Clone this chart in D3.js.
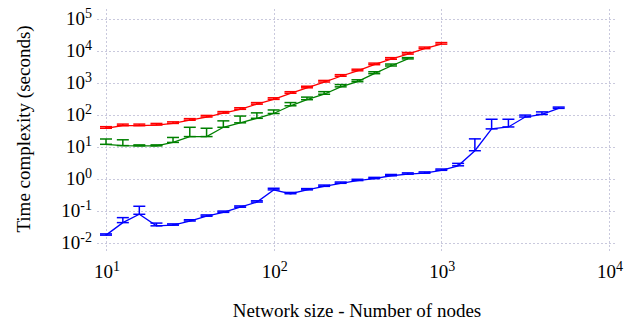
<!DOCTYPE html>
<html>
<head>
<meta charset="utf-8">
<script src="https://cdn.jsdelivr.net/npm/d3@7"></script>
<style>
html, body { margin: 0; padding: 0; background: #fff; }
svg { display: block; font-family: "Liberation Serif", "Times New Roman", serif; }
</style>
</head>
<body>
<svg id="chart" width="632" height="322"></svg>
<script>
// ---- Data ----
const nodes = [10, 12.6, 15.8, 20, 25.1, 31.6, 39.8, 50.1, 63.1, 79.4, 100, 126, 158, 200, 251, 316, 398, 501, 631, 794, 1000, 1259, 1585, 1995, 2512, 3162, 3981, 5012];

const redMean = [38.9, 46.8, 46.8, 49.0, 55.0, 69.2, 87.1, 114.8, 151.4, 218.8, 309, 478.6, 707.9, 1071.5, 1621.8, 2398.8, 3715.4, 5495.4, 7943.3, 11749, 16218];
const redErr  = [4.7, 5.6, 5.6, 5.9, 6.6, 8.3, 10.5, 13.8, 18.2, 26.3, 37, 57, 85, 129, 195, 288, 446, 659, 953, 1410, 1946];

const greenMean = [12.3, 11.2, 11.0, 11.0, 14.1, 21.4, 21.4, 41.7, 57.5, 79.4, 112.2, 195.0, 302.0, 446.7, 758.6, 1096.5, 1949.8, 3388.4, 5623.4];
const greenErr  = [5.7, 5.8, 0.8, 0.8, 6.0, 20.3, 17.5, 24.4, 35.8, 38, 32.3, 50.5, 61, 90, 133, 162, 289, 502, 540];

const blueMean = [0.0182, 0.0447, 0.0813, 0.0355, 0.0372, 0.0501, 0.0708, 0.0933, 0.135, 0.195, 0.468, 0.355, 0.468, 0.603, 0.750, 0.912, 1.047, 1.288, 1.445, 1.549, 1.905, 2.63, 7.76, 37.2, 42.7, 87.1, 104.7, 162.2];
const blueErr  = [0.0017, 0.0192, 0.0632, 0.0077, 0.0036, 0.0048, 0.0068, 0.009, 0.013, 0.019, 0.057, 0.034, 0.045, 0.058, 0.072, 0.088, 0.10, 0.124, 0.139, 0.149, 0.183, 0.50, 10.4, 37, 31.5, 12.9, 21.1, 15.6];

const xTickExps = [1, 2, 3, 4];
const yTickExps = [-2, -1, 0, 1, 2, 3, 4, 5];

const xLabel = "Network size - Number of nodes";
const yLabel = "Time complexity (seconds)";

// ---- Layout ----
const svg = d3.select("#chart");
const pL = 97, pR = 617, pT = 9, pB = 252;

const x = d3.scaleLog().domain([Math.pow(10, 0.9463), Math.pow(10, 4.0477)]).range([pL, pR]);
const y = d3.scaleLog().domain([Math.pow(10, -2.265), Math.pow(10, 5.305)]).range([pB, pT]);

// grid
const grid = svg.append("g").attr("stroke", "#c9c9dd").attr("stroke-width", 1).attr("stroke-dasharray", "2,2");
xTickExps.forEach(e => {
  const xv = Math.round(x(Math.pow(10, e))) + 0.5;
  grid.append("line").attr("x1", xv).attr("x2", xv).attr("y1", pT).attr("y2", pB);
});
yTickExps.forEach(e => {
  const yv = Math.round(y(Math.pow(10, e))) + 0.5;
  grid.append("line").attr("x1", pL).attr("x2", pR).attr("y1", yv).attr("y2", yv);
});

// tick labels
const tl = svg.append("g").attr("fill", "#000");
xTickExps.forEach(e => {
  const t = tl.append("text")
    .attr("x", x(Math.pow(10, e)) + 1)
    .attr("y", 278)
    .attr("text-anchor", "middle")
    .attr("font-size", 19);
  t.append("tspan").text("10");
  t.append("tspan").attr("font-size", 14).attr("dy", -7).text(String(e));
});
yTickExps.forEach(e => {
  const t = tl.append("text")
    .attr("x", 92)
    .attr("y", y(Math.pow(10, e)) + 6)
    .attr("text-anchor", "end")
    .attr("font-size", 19);
  t.append("tspan").text("10");
  t.append("tspan").attr("font-size", 14).attr("dy", -7).text(String(e));
});

// axis labels
svg.append("text")
  .attr("x", 357).attr("y", 317)
  .attr("text-anchor", "middle")
  .attr("font-size", 19)
  .text(xLabel);
svg.append("text")
  .attr("transform", "translate(30," + 129 + ") rotate(-90)")
  .attr("text-anchor", "middle")
  .attr("font-size", 19)
  .text(yLabel);

// series
function drawSeries(means, errs, color) {
  const pts = means.map((m, i) => ({ x: nodes[i], m: m, e: errs[i] }));
  const line = d3.line().x(d => x(d.x)).y(d => y(d.m));
  svg.append("path").datum(pts)
    .attr("fill", "none").attr("stroke", color).attr("stroke-width", 1.3)
    .attr("d", line);
  const g = svg.append("g").attr("stroke", color).attr("stroke-width", 1.5).attr("fill", "none");
  pts.forEach(d => {
    const cx = x(d.x), y0 = y(d.m), y1 = y(d.m + d.e);
    g.append("line").attr("x1", cx).attr("x2", cx).attr("y1", y0).attr("y2", y1);
    g.append("line").attr("x1", cx - 6).attr("x2", cx + 6).attr("y1", y0).attr("y2", y0);
    g.append("line").attr("x1", cx - 6).attr("x2", cx + 6).attr("y1", y1).attr("y2", y1);
  });
}
drawSeries(redMean, redErr, "#ff0000");
drawSeries(greenMean, greenErr, "#008000");
drawSeries(blueMean, blueErr, "#0000ff");
</script>
</body>
</html>
